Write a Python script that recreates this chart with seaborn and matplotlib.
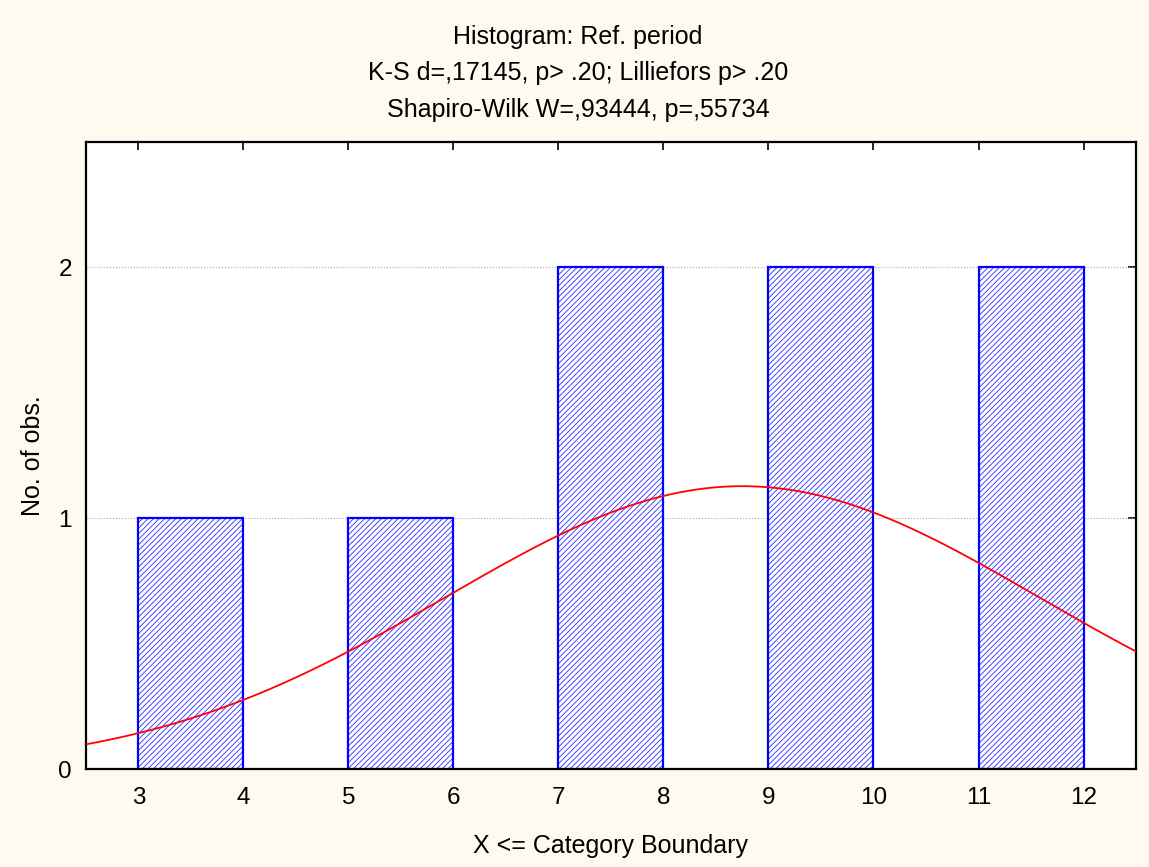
import numpy as np
import pandas as pd
import matplotlib
matplotlib.use("Agg")
import matplotlib.pyplot as plt
import seaborn as sns

# Daten
bin_edges = [3, 4, 5, 6, 7, 8, 9, 10, 11, 12]
bin_counts = [1, 0, 1, 0, 2, 0, 2, 0, 2]
n_obs = 8
fit_mean = 8.75
fit_sd = 2.83

title_lines = ["Histogram: Ref. period",
               "K-S d=,17145, p> .20; Lilliefors p> .20",
               "Shapiro-Wilk W=,93444, p=,55734"]
x_label = "X <= Category Boundary"
y_label = "No. of obs."

# ------------------------------------------

sns.set_style("white")
plt.rcParams['font.family'] = ['Liberation Sans', 'DejaVu Sans']
plt.rcParams['hatch.linewidth'] = 0.6
plt.rcParams['hatch.color'] = '#2b2bff'
plt.rcParams['text.color'] = 'black'
plt.rcParams['axes.labelcolor'] = 'black'

bg = '#FEFAF0'
fig = plt.figure(figsize=(11.49, 8.67), dpi=100, facecolor=bg)
ax = fig.add_axes([0.0748, 0.113, 0.9139, 0.7232])
ax.set_facecolor('white')

df = pd.DataFrame({
    'mitte': [(a + b) / 2 for a, b in zip(bin_edges[:-1], bin_edges[1:])],
    'anzahl': bin_counts,
})

# Balken mit Schraffur, Rand danach drüber
sns.histplot(data=df, x='mitte', weights='anzahl', bins=bin_edges, ax=ax,
             stat='count', fill=True, color='white', alpha=1,
             linewidth=0, zorder=2)
for p in ax.patches:
    p.set_hatch('//////')
    p.set_edgecolor('#2b2bff')
    p.set_linewidth(0)
    p.set_facecolor('white')
    if p.get_height() == 0:
        p.set_visible(False)

n_before = len(ax.patches)
sns.histplot(data=df, x='mitte', weights='anzahl', bins=bin_edges, ax=ax,
             stat='count', fill=False, color='#0000FF', linewidth=1.6, zorder=2.5)
for p in ax.patches[n_before:]:
    p.set_edgecolor('#0000FF')
    p.set_facecolor('none')
    if p.get_height() == 0:
        p.set_visible(False)

# Normalverteilungskurve (angepasst)
xs = np.linspace(2.5, 12.5, 300)
ys = n_obs * 1.0 / (fit_sd * np.sqrt(2 * np.pi)) * np.exp(-0.5 * ((xs - fit_mean) / fit_sd) ** 2)
sns.lineplot(x=xs, y=ys, color='red', linewidth=1.3, ax=ax, zorder=3)

ax.set_xlim(2.5, 12.5)
ax.set_ylim(0, 2.5)
ax.set_xticks(range(3, 13))
ax.set_yticks([0, 1, 2])

for y in [1, 2]:
    ax.axhline(y, color='#aaaaaa', linestyle=':', linewidth=0.8, zorder=1)

for s in ax.spines.values():
    s.set_color('black')
    s.set_linewidth(1.6)
    s.set_visible(True)

ax.tick_params(axis='both', direction='in', length=6, width=1.2, colors='black',
               labelsize=17.5, top=True, right=True)
ax.tick_params(axis='x', pad=13)
ax.tick_params(axis='y', pad=10)

ax.set_xlabel(x_label, fontsize=18)
ax.set_ylabel(y_label, fontsize=18)
ax.xaxis.set_label_coords(0.5, -0.104)
ax.yaxis.set_label_coords(-0.039, 0.5)

ys_title = [37, 73, 110]
for txt, yp in zip(title_lines, ys_title):
    fig.text(0.503, 1 - yp / 867, txt, ha='center', va='center', fontsize=18)

fig.savefig('out.png', dpi=100, facecolor=bg)
